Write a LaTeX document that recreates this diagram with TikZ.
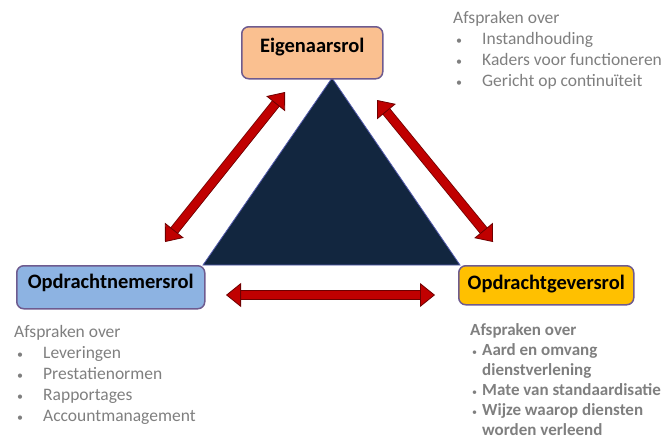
\documentclass[tikz,border=0pt]{standalone}
\usepackage{fontspec}
\setmainfont{Carlito}
\usetikzlibrary{arrows.meta}
\definecolor{peach}{HTML}{FAC090}
\definecolor{rolblue}{HTML}{8DB3E2}
\definecolor{rolgold}{HTML}{FFC000}
\definecolor{rolframe}{HTML}{6E5B8F}
\definecolor{navy}{HTML}{12263F}
\definecolor{arrowred}{HTML}{C00000}
\definecolor{arrowdark}{HTML}{6E0000}
\definecolor{notegray}{HTML}{7F7F7F}
\tikzset{
  rolbox/.style={draw=rolframe, line width=1.5pt, rounded corners=7pt, inner sep=0pt, anchor=north west,
    font=\fontsize{20.5}{24}\selectfont\bfseries},
  note/.style={anchor=base west, inner sep=0pt, text=notegray, font=\fontsize{17.5}{21}\selectfont},
  redtip/.tip={Triangle[length=15pt,width=24pt,line width=0.8pt,color=arrowdark,fill=arrowred]},
  redarrow/.style={line width=8pt, draw=arrowred, arrows={redtip-redtip},
    preaction={draw=arrowdark, line width=9.6pt, arrows=-, shorten <=10pt, shorten >=10pt}}
}
\newcommand{\bul}{{\fontsize{12}{12}\selectfont\mdseries\textbullet}}
\newcommand{\smallbul}{{\fontsize{10}{10}\selectfont\mdseries\textbullet}}
\begin{document}
\begin{tikzpicture}[x=1pt,y=-1pt]
        \useasboundingbox (0,0) rectangle (669,440);
        \fill[navy, draw=navy!60!blue!70!white, line width=0.8pt] (332,78) -- (460,265) -- (203,265) -- cycle;
        \node[rolbox, fill=peach, minimum width=141pt, text height=26pt, text depth=26pt] (eigenaar) at (241,26) {Eigenaarsrol};
        \node[rolbox, fill=rolblue, minimum width=188pt, text height=23pt, text depth=20pt] (nemer) at (16,265) {Opdrachtnemersrol};
        \node[rolbox, fill=rolgold, minimum width=175pt, text height=24pt, text depth=15pt] (gever) at (458,265) {Opdrachtgeversrol};
        \coordinate (nemerup) at (165,242);
        \coordinate (eigenaarleft) at (285,92);
        \coordinate (eigenaarright) at (377,100);
        \coordinate (geverup) at (493,242);
        \coordinate (nemerright) at (226,295);
        \coordinate (geverleft) at (435,295);
        \draw[redarrow] (nemerup) -- (eigenaarleft);
        \draw[redarrow] (eigenaarright) -- (geverup);
        \draw[redarrow] (nemerright) -- (geverleft);
        \node[note] (eigenaarnote) at (453,23) {\begin{tabular}[t]{@{}p{29pt}@{}l@{}}
            \multicolumn{2}{@{}l@{}}{Afspraken over}\\
            \hspace*{3pt}\bul & Instandhouding\\
            \hspace*{3pt}\bul & Kaders voor functioneren\\
            \hspace*{3pt}\bul & Gericht op continuïteit
          \end{tabular}};
        \node[note] (nemernote) at (14,337) {\begin{tabular}[t]{@{}p{29pt}@{}l@{}}
            \multicolumn{2}{@{}l@{}}{Afspraken over}\\
            \hspace*{3pt}\bul & Leveringen\\
            \hspace*{3pt}\bul & Prestatienormen\\
            \hspace*{3pt}\bul & Rapportages\\
            \hspace*{3pt}\bul & Accountmanagement
          \end{tabular}};
        \node[note, font=\fontsize{17}{20}\selectfont\bfseries] (gevernote) at (470,335) {\begin{tabular}[t]{@{}p{12pt}@{}l@{}}
            \multicolumn{2}{@{}l@{}}{Afspraken over}\\
            \hspace*{2pt}\smallbul & Aard en omvang\\
             & dienstverlening\\
            \hspace*{2pt}\smallbul & Mate van standaardisatie\\
            \hspace*{2pt}\smallbul & Wijze waarop diensten\\
             & worden verleend
          \end{tabular}};
\end{tikzpicture}
\end{document}
